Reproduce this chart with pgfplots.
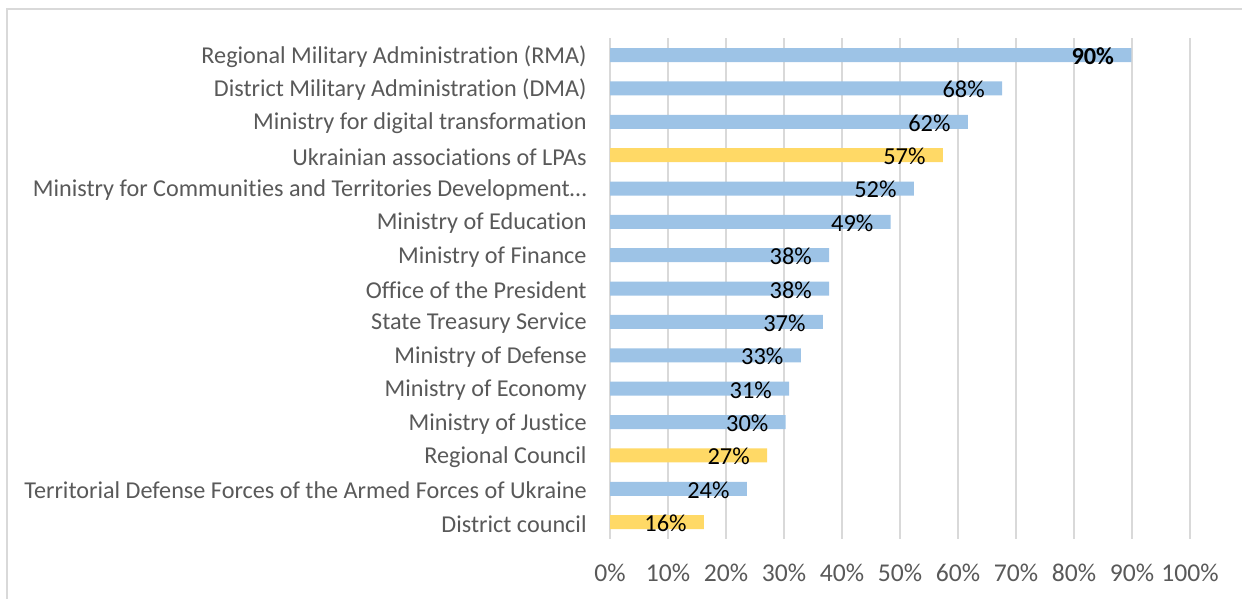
\documentclass[border=0pt]{standalone}
\usepackage{fontspec}
\setmainfont[Ligatures=NoCommon]{Carlito}
\usepackage{pgfplots}
\pgfplotsset{compat=1.18}
\definecolor{barblue}{HTML}{9DC3E6}
\definecolor{baryellow}{HTML}{FFD966}
\definecolor{ticktxt}{HTML}{595959}
\definecolor{gridc}{HTML}{D9D9D9}
\begin{document}
\begin{tikzpicture}
\draw[color=gridc, line width=1pt] (3.5pt,0pt) -- (3.5pt,295pt) -- (621pt,295pt);
\begin{axis}[
 at={(305pt,30.1pt)}, anchor=south west,
 scale only axis, width=290pt, height=250.2pt,
 xbar, bar width=7pt, bar shift=0pt,
 xmin=0, xmax=100, ymin=-0.5, ymax=14.5,
 xtick={0,10,...,100},
 xticklabel={\pgfmathprintnumber{\tick}\%},
 /pgf/number format/assume math mode=true,
 ytick={0,...,14},
 yticklabels={District council, Territorial Defense Forces of the Armed Forces of Ukraine, Regional Council\ , Ministry of Justice, Ministry of Economy, Ministry of Defense, State Treasury Service, Office of the President, Ministry of Finance, Ministry of Education, Ministry for Communities and Territories Development…, Ukrainian associations of LPAs, Ministry for digital transformation, District Military Administration (DMA), Regional Military Administration (RMA)},
 xmajorgrids, grid style={gridc, line width=1pt},
 axis line style={draw=none},
 major tick length=0pt,
 tick label style={text=ticktxt},
 yticklabel style={anchor=east, inner sep=0pt, xshift=-11.5pt, yshift=-0.8pt, font=\fontsize{12.1}{15}\selectfont},
 xticklabel style={anchor=base, inner sep=0pt, yshift=-21.5pt, font=\fontsize{12.8}{15}\selectfont},
 point meta=explicit symbolic,
 nodes near coords,
 every node near coord/.append style={anchor=east, inner sep=0pt, xshift=-8.5pt, yshift=-0.6pt, font=\fontsize{12.2}{15}\selectfont, text=black},
]
\addplot[fill=barblue, draw=none] coordinates {
 (23.6,1) [24\%]
 (30.3,3) [30\%]
 (30.9,4) [31\%]
 (32.9,5) [33\%]
 (36.7,6) [37\%]
 (37.8,7) [38\%]
 (37.8,8) [38\%]
 (48.4,9) [49\%]
 (52.4,10) [52\%]
 (61.7,12) [62\%]
 (67.6,13) [68\%]
 (89.9,14) [\textbf{90\%}]
};
\addplot[fill=baryellow, draw=none] coordinates {
 (16.2,0) [16\%]
 (27.1,2) [27\%]
 (57.4,11) [57\%]
};
\end{axis}
\pgfresetboundingbox
\useasboundingbox (0,0) rectangle (621pt,299.5pt);
\end{tikzpicture}
\end{document}
